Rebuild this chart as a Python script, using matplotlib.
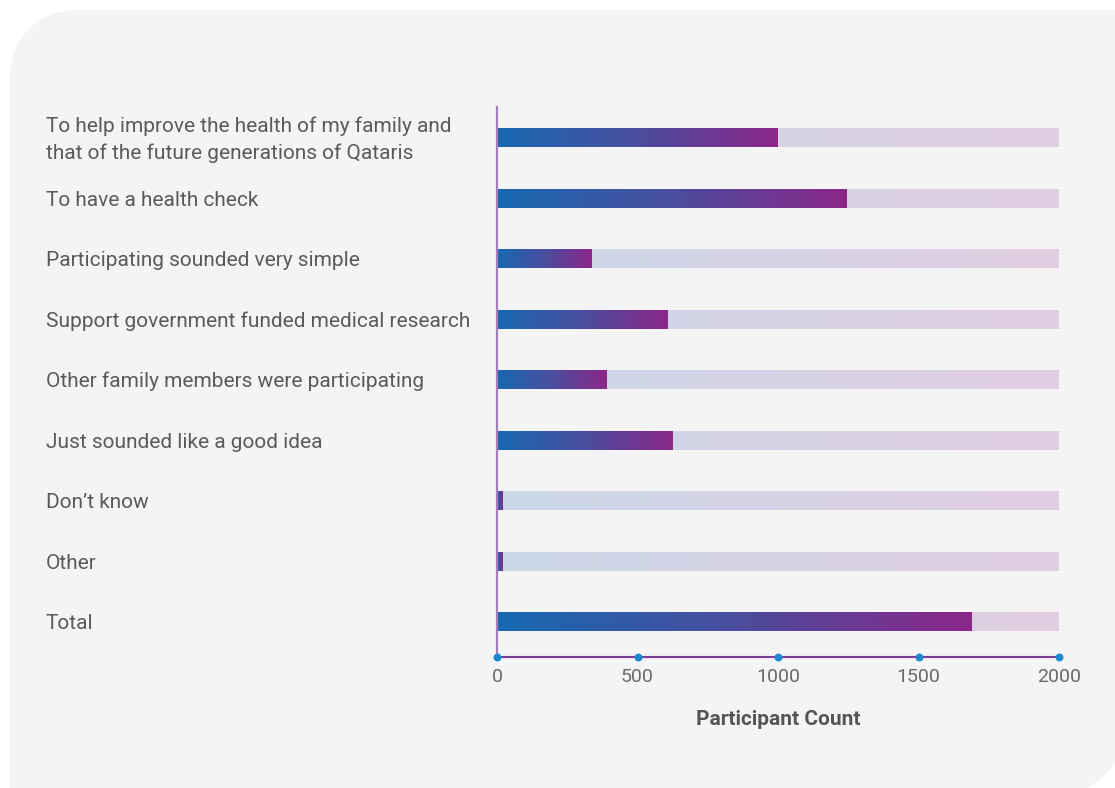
import numpy as np
import matplotlib
matplotlib.use('Agg')
import matplotlib.pyplot as plt
from matplotlib.colors import LinearSegmentedColormap
from matplotlib.patches import Polygon
import matplotlib.transforms as mtransforms

categories = ['To help improve the health of my family and\nthat of the future generations of Qataris',
              'To have a health check',
              'Participating sounded very simple',
              'Support government funded medical research',
              'Other family members were participating',
              'Just sounded like a good idea',
              'Don\u2019t know',
              'Other',
              'Total']
counts = [1000, 1245, 338, 605, 391, 626, 20, 20, 1687]
max_count = 2000
xticks = [0, 500, 1000, 1500, 2000]

plt.rcParams['font.family'] = ['Roboto', 'DejaVu Sans']

W, H = 1115, 788
fig = plt.figure(figsize=(W / 100, H / 100), dpi=100)
fig.patch.set_facecolor('white')

# rounded grey panel (pixel coords, y down)
def arc(cx, cy, r, a0, a1):
    t = np.radians(np.linspace(a0, a1, 40))
    return np.column_stack([cx + r * np.cos(t), cy + r * np.sin(t)])

r1, r2 = 65, 95
pts = np.vstack([
    arc(10 + r1, 10 + r1, r1, 180, 270),
    [[1130, 10]],
    arc(1133 - r2, 802 - r2, r2, 0, 90),
    [[10, 802]],
])
pts = np.column_stack([pts[:, 0] / W, 1 - pts[:, 1] / H])
fig.patches.append(Polygon(pts, closed=True, transform=fig.transFigure,
                           facecolor='#f4f4f4', edgecolor='none', zorder=-10))

ax = fig.add_axes([497 / W, 1 - 657 / H, 562 / W, (657 - 107) / H])
ax.set_facecolor('none')

fg_cmap = LinearSegmentedColormap.from_list('fg', ['#1769b1', '#4a4d9e', '#8b2789'])
bg_cmap = LinearSegmentedColormap.from_list('bg', ['#cad8e8', '#e2cde2'])
grad = np.linspace(0, 1, 256).reshape(1, -1)
h = 0.31

for i, v in enumerate(counts):
    ax.imshow(grad, cmap=bg_cmap, extent=[0, max_count, i - h / 2, i + h / 2],
              aspect='auto', interpolation='bicubic', zorder=1)
    ax.imshow(grad, cmap=fg_cmap, extent=[0, v, i - h / 2, i + h / 2],
              aspect='auto', interpolation='bicubic', zorder=2)

ax.set_xlim(0, max_count)
ax.set_ylim(8.58, -0.51)

for s in ['top', 'right']:
    ax.spines[s].set_visible(False)
ax.spines['left'].set_color('#a57fbd')
ax.spines['left'].set_linewidth(1.6)
ax.spines['bottom'].set_color('#7b3f9b')
ax.spines['bottom'].set_linewidth(1.5)

ax.set_yticks([])
ax.set_xticks(xticks)
ax.set_xticklabels([str(t) for t in xticks], fontsize=14, color='#6a6a6a')
ax.tick_params(axis='x', length=0, pad=8)
ax.scatter(xticks, [8.58] * len(xticks), s=22, color='#1c88cf', zorder=5, clip_on=False)

ax.set_xlabel('Participant Count', fontsize=15, fontweight='bold', color='#555555', labelpad=17)

trans = mtransforms.blended_transform_factory(fig.transFigure, ax.transData)
for i, c in enumerate(categories):
    ax.text(46 / W, i + 0.03, c, transform=trans, ha='left', va='center', fontsize=15,
            color='#5a5a5a', linespacing=1.45)

fig.savefig('out.png', dpi=100, facecolor='white')
